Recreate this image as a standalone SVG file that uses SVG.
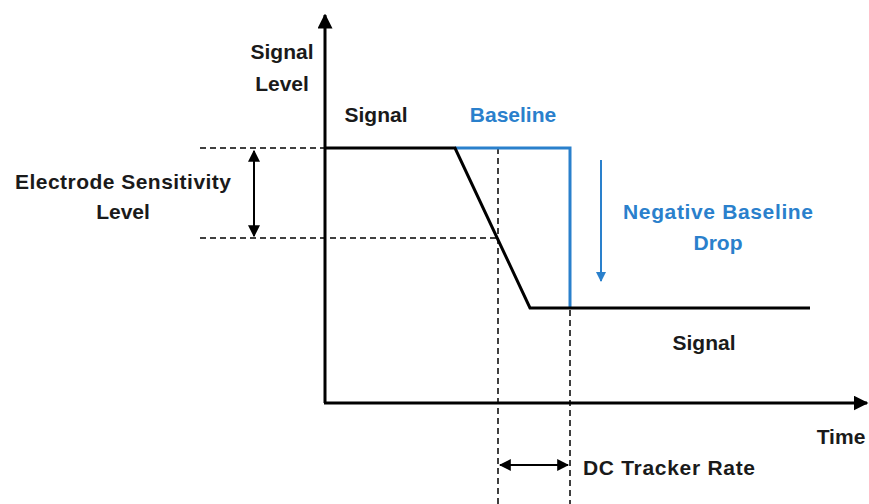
<svg xmlns="http://www.w3.org/2000/svg" width="869" height="504" viewBox="0 0 869 504">
<style>
text{font-family:"Liberation Sans",Arial,sans-serif;font-weight:bold;font-size:21px;fill:#1a1a1a}
.blue{fill:#2a80cc}
.k{stroke:#000;stroke-width:3;fill:none}
.d{stroke:#000;stroke-width:1.5;stroke-dasharray:6,4;fill:none}
.a{stroke:#000;stroke-width:2;fill:none}
</style>
<defs>
<marker id="ah" viewBox="0 0 10 10" refX="9" refY="5" markerWidth="6" markerHeight="6" orient="auto-start-reverse" markerUnits="strokeWidth"><path d="M0,0 L10,5 L0,10 Z" fill="#000"/></marker>
<marker id="ahb" viewBox="0 0 10 10" refX="9" refY="5" markerWidth="5" markerHeight="5" orient="auto" markerUnits="strokeWidth"><path d="M0,0 L10,5 L0,10 Z" fill="#2a80cc"/></marker>
<marker id="ax" viewBox="0 0 10 10" refX="9" refY="5" markerWidth="5" markerHeight="5" orient="auto" markerUnits="strokeWidth"><path d="M0,0 L10,5 L0,10 Z" fill="#000"/></marker>
</defs>
<g id="connectors">
<line class="k" x1="325" y1="403" x2="325" y2="15" marker-end="url(#ax)"/>
<line class="k" x1="324" y1="403" x2="867" y2="403" marker-end="url(#ax)"/>
<line class="d" x1="200" y1="148" x2="325" y2="148"/>
<line class="d" x1="200" y1="238" x2="497" y2="238"/>
<line class="d" x1="498" y1="148" x2="498" y2="504"/>
<line class="d" x1="570" y1="310" x2="570" y2="504"/>
<line class="a" x1="254" y1="151" x2="254" y2="236" marker-start="url(#ah)" marker-end="url(#ah)"/>
<line class="a" x1="500" y1="465" x2="568" y2="465" marker-start="url(#ah)" marker-end="url(#ah)"/>
<line x1="601" y1="160" x2="601" y2="281" stroke="#2a80cc" stroke-width="2" marker-end="url(#ahb)"/>
<polyline points="455,148 570,148 570,308" fill="none" stroke="#2a80cc" stroke-width="3"/>
<polyline class="k" points="325,148 455,148 530,308 810,308"/>
</g>
<g id="label-signal-level"><text x="282" y="59" text-anchor="middle">Signal</text><text x="282" y="91" text-anchor="middle">Level</text></g>
<g id="label-signal-top"><text x="376" y="122" text-anchor="middle">Signal</text></g>
<g id="label-baseline"><text class="blue" x="513" y="122" text-anchor="middle">Baseline</text></g>
<g id="label-sensitivity"><text x="123" y="189" text-anchor="middle" textLength="216" lengthAdjust="spacing">Electrode Sensitivity</text><text x="123" y="219" text-anchor="middle">Level</text></g>
<g id="label-drop"><text class="blue" x="718" y="219" text-anchor="middle" textLength="190" lengthAdjust="spacing">Negative Baseline</text><text class="blue" x="718" y="250" text-anchor="middle">Drop</text></g>
<g id="label-signal-bottom"><text x="704" y="350" text-anchor="middle">Signal</text></g>
<g id="label-time"><text x="841" y="444" text-anchor="middle">Time</text></g>
<g id="label-dc"><text x="669" y="475" text-anchor="middle" textLength="172" lengthAdjust="spacing">DC Tracker Rate</text></g>
</svg>
